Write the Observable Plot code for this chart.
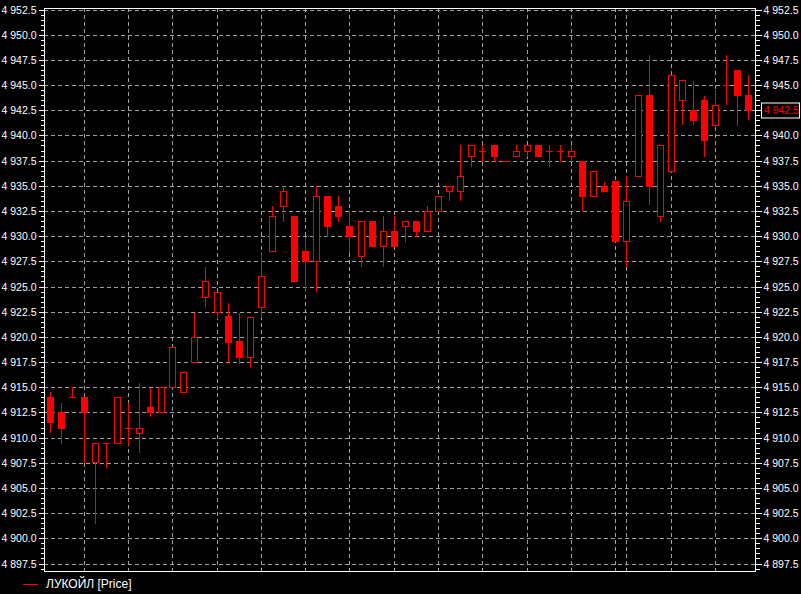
<!DOCTYPE html>
<html><head><meta charset="utf-8">
<script src="https://cdn.jsdelivr.net/npm/d3@7"></script>
<script src="https://cdn.jsdelivr.net/npm/@observablehq/plot@0.6"></script>
<style>
html,body{margin:0;padding:0;background:#000;overflow:hidden;}
#chart svg{display:block;}
.legend{height:20px;display:flex;align-items:center;padding-left:23px;font:12px "Liberation Sans",Arial,sans-serif;color:#fff;}
.legend .sw{width:15px;height:1px;background:#ff0000;margin-right:8px;}
</style></head><body>
<div id="chart"></div>
<div class="legend"><span class="sw"></span><span>ЛУКОЙЛ [Price]</span></div>
<script>
const openP  = [4914,4912.5,4914,4914,4907.6,4909.5,4909.5,4911,4910.5,4913,4912.5,4915,4914.5,4917.5,4924,4922.5,4922.1,4919.6,4918,4923,4928.5,4933,4932,4928.5,4927.5,4934,4933,4931,4928,4931.5,4929,4930.5,4931,4931.5,4930.5,4932.5,4934.5,4934.5,4938,4938.5,4939,4937.5,4938,4938.5,4939,4938.5,4938.5,4938,4937.5,4934,4935,4935.5,4929.5,4936,4944,4932,4936.5,4943.5,4942.5,4943.5,4941,4945,4946.5,4944];
const highP  = [4914.5,4913.4,4915,4914,4909.5,4909.5,4914,4913.4,4915.4,4914.9,4915,4919,4916.5,4922.4,4926.9,4924.5,4923.4,4922.4,4922,4928.4,4933,4935,4932,4929.9,4935,4934,4934,4932.6,4931.5,4931.5,4932,4932,4931.5,4931.5,4933,4934,4935,4939,4939,4939,4939,4937.5,4939,4939,4939,4939,4939,4939,4937.5,4936.5,4935.4,4935.5,4936,4944,4948,4939,4946,4945.5,4945.4,4943.9,4944.5,4948,4946.5,4946];
const lowP   = [4910.6,4909.5,4914,4907.6,4901.5,4907.1,4909.5,4909.4,4908.6,4912.1,4912.5,4915,4914.5,4917.5,4923.1,4921.9,4917.5,4917.4,4917,4922,4928.5,4931.5,4925.5,4924.6,4924.6,4930,4931.5,4928.4,4927,4929,4927,4929,4929.5,4930,4930.5,4932.5,4933.6,4933.6,4937,4937.5,4937.5,4937.5,4938,4938,4938,4937,4937.5,4937.5,4932.6,4934,4934.5,4929.5,4927,4936,4933.2,4931.5,4936.5,4941.1,4941.1,4938,4941,4943.1,4941,4941.6];
const closeP = [4911.5,4911,4914,4912.5,4909.5,4909.5,4914,4911,4911,4912.5,4915,4919,4916.5,4920,4925.5,4924.5,4919.5,4918,4922,4926,4932,4934.5,4925.5,4927.5,4934,4931,4932,4930,4931.5,4929,4930.5,4929,4931.5,4930.5,4932.5,4934,4935,4936,4939,4938.5,4938,4937.5,4938.5,4939,4938,4938.5,4938.5,4938.5,4934,4936.5,4934.5,4929.5,4933.5,4944,4935,4939,4946,4945.5,4941.5,4939.5,4943,4945,4944,4942.5];
const gridBars = [4,8,12,16,20,24,28,32,36,40,44,48,52,53,57,61];
const yMajorTicks = [4897.5,4900,4902.5,4905,4907.5,4910,4912.5,4915,4917.5,4920,4922.5,4925,4927.5,4930,4932.5,4935,4937.5,4940,4942.5,4945,4947.5,4950,4952.5];
const yMinorTicks = d3.range(4897, 4953, 0.5);

const bars = openP.map((o, k) => ({i: k + 1, o, h: highP[k], l: lowP[k], c: closeP[k], top: Math.max(o, closeP[k]), bot: Math.min(o, closeP[k])}));
const down = bars.filter(d => d.c < d.o);
const up = bars.filter(d => d.c > d.o);
const doji = bars.filter(d => d.c === d.o);
const lastClose = closeP[closeP.length - 1];

const fmt = d => { const s = d.toFixed(1); return s.slice(0, s.length - 5) + " " + s.slice(-5); };
const red = "#ff0000";
const gridC = "#a0a0a0";

const chart = Plot.plot({
  width: 801, height: 574,
  marginLeft: 44, marginRight: 46, marginTop: 8, marginBottom: 3,
  style: {background: "#000", color: "#fff", fontFamily: "Liberation Sans, Arial, sans-serif", fontSize: "10.5px"},
  x: {type: "linear", domain: [0.431, 64.6], round: true, axis: null},
  y: {domain: [4896.757, 4952.649], round: true, label: null},
  marks: [
    Plot.ruleY(yMajorTicks, {stroke: gridC, strokeDasharray: "4,3"}),
    Plot.ruleX(gridBars, {stroke: gridC, strokeDasharray: "4,3"}),
    Plot.ruleX(bars, {x: "i", y1: "h", y2: "l", stroke: red, insetBottom: -1}),
    Plot.ruleX(down, {x: "i", y1: "top", y2: "bot", stroke: red, strokeWidth: 7, insetBottom: -1}),
    Plot.ruleX(up, {x: "i", y1: "top", y2: "bot", stroke: red, strokeWidth: 7, insetBottom: -1}),
    Plot.ruleX(up, {x: "i", y1: "top", y2: "bot", stroke: "#000", strokeWidth: 5, insetTop: 1}),
    Plot.ruleX(doji, {x: "i", y1: "c", y2: "c", stroke: red, strokeWidth: 7, insetBottom: -1}),
    Plot.frame({stroke: "#fff"}),
    Plot.axisY({ticks: yMajorTicks, anchor: "left", tickSize: 5, tickPadding: 3, tickFormat: fmt, color: "#fff", label: null}),
    Plot.axisY({ticks: yMinorTicks, anchor: "left", tickSize: 3, tickFormat: () => "", color: "#fff", label: null}),
    Plot.axisY({ticks: yMajorTicks, anchor: "right", tickSize: 6, tickPadding: 2, tickFormat: d => d === lastClose ? "" : fmt(d), color: "#fff", label: null}),
    Plot.axisY({ticks: yMinorTicks, anchor: "right", tickSize: 4, tickFormat: () => "", color: "#fff", label: null})
  ]
});
document.getElementById("chart").appendChild(chart);

// last-price marker on the right axis
const yy = chart.scale("y").apply(lastClose) + 0.5;
const svg = d3.select(chart);
svg.append("rect").attr("x", 761.5).attr("y", yy - 7.5).attr("width", 38).attr("height", 15)
  .attr("fill", "#000").attr("stroke", "#fff");
svg.append("text").attr("x", 764).attr("y", yy).attr("dy", "0.32em").attr("text-anchor", "start")
  .attr("fill", red).attr("font-family", "Liberation Sans, Arial, sans-serif").attr("font-size", "10.5px")
  .text(fmt(lastClose));
</script>
</body></html>
